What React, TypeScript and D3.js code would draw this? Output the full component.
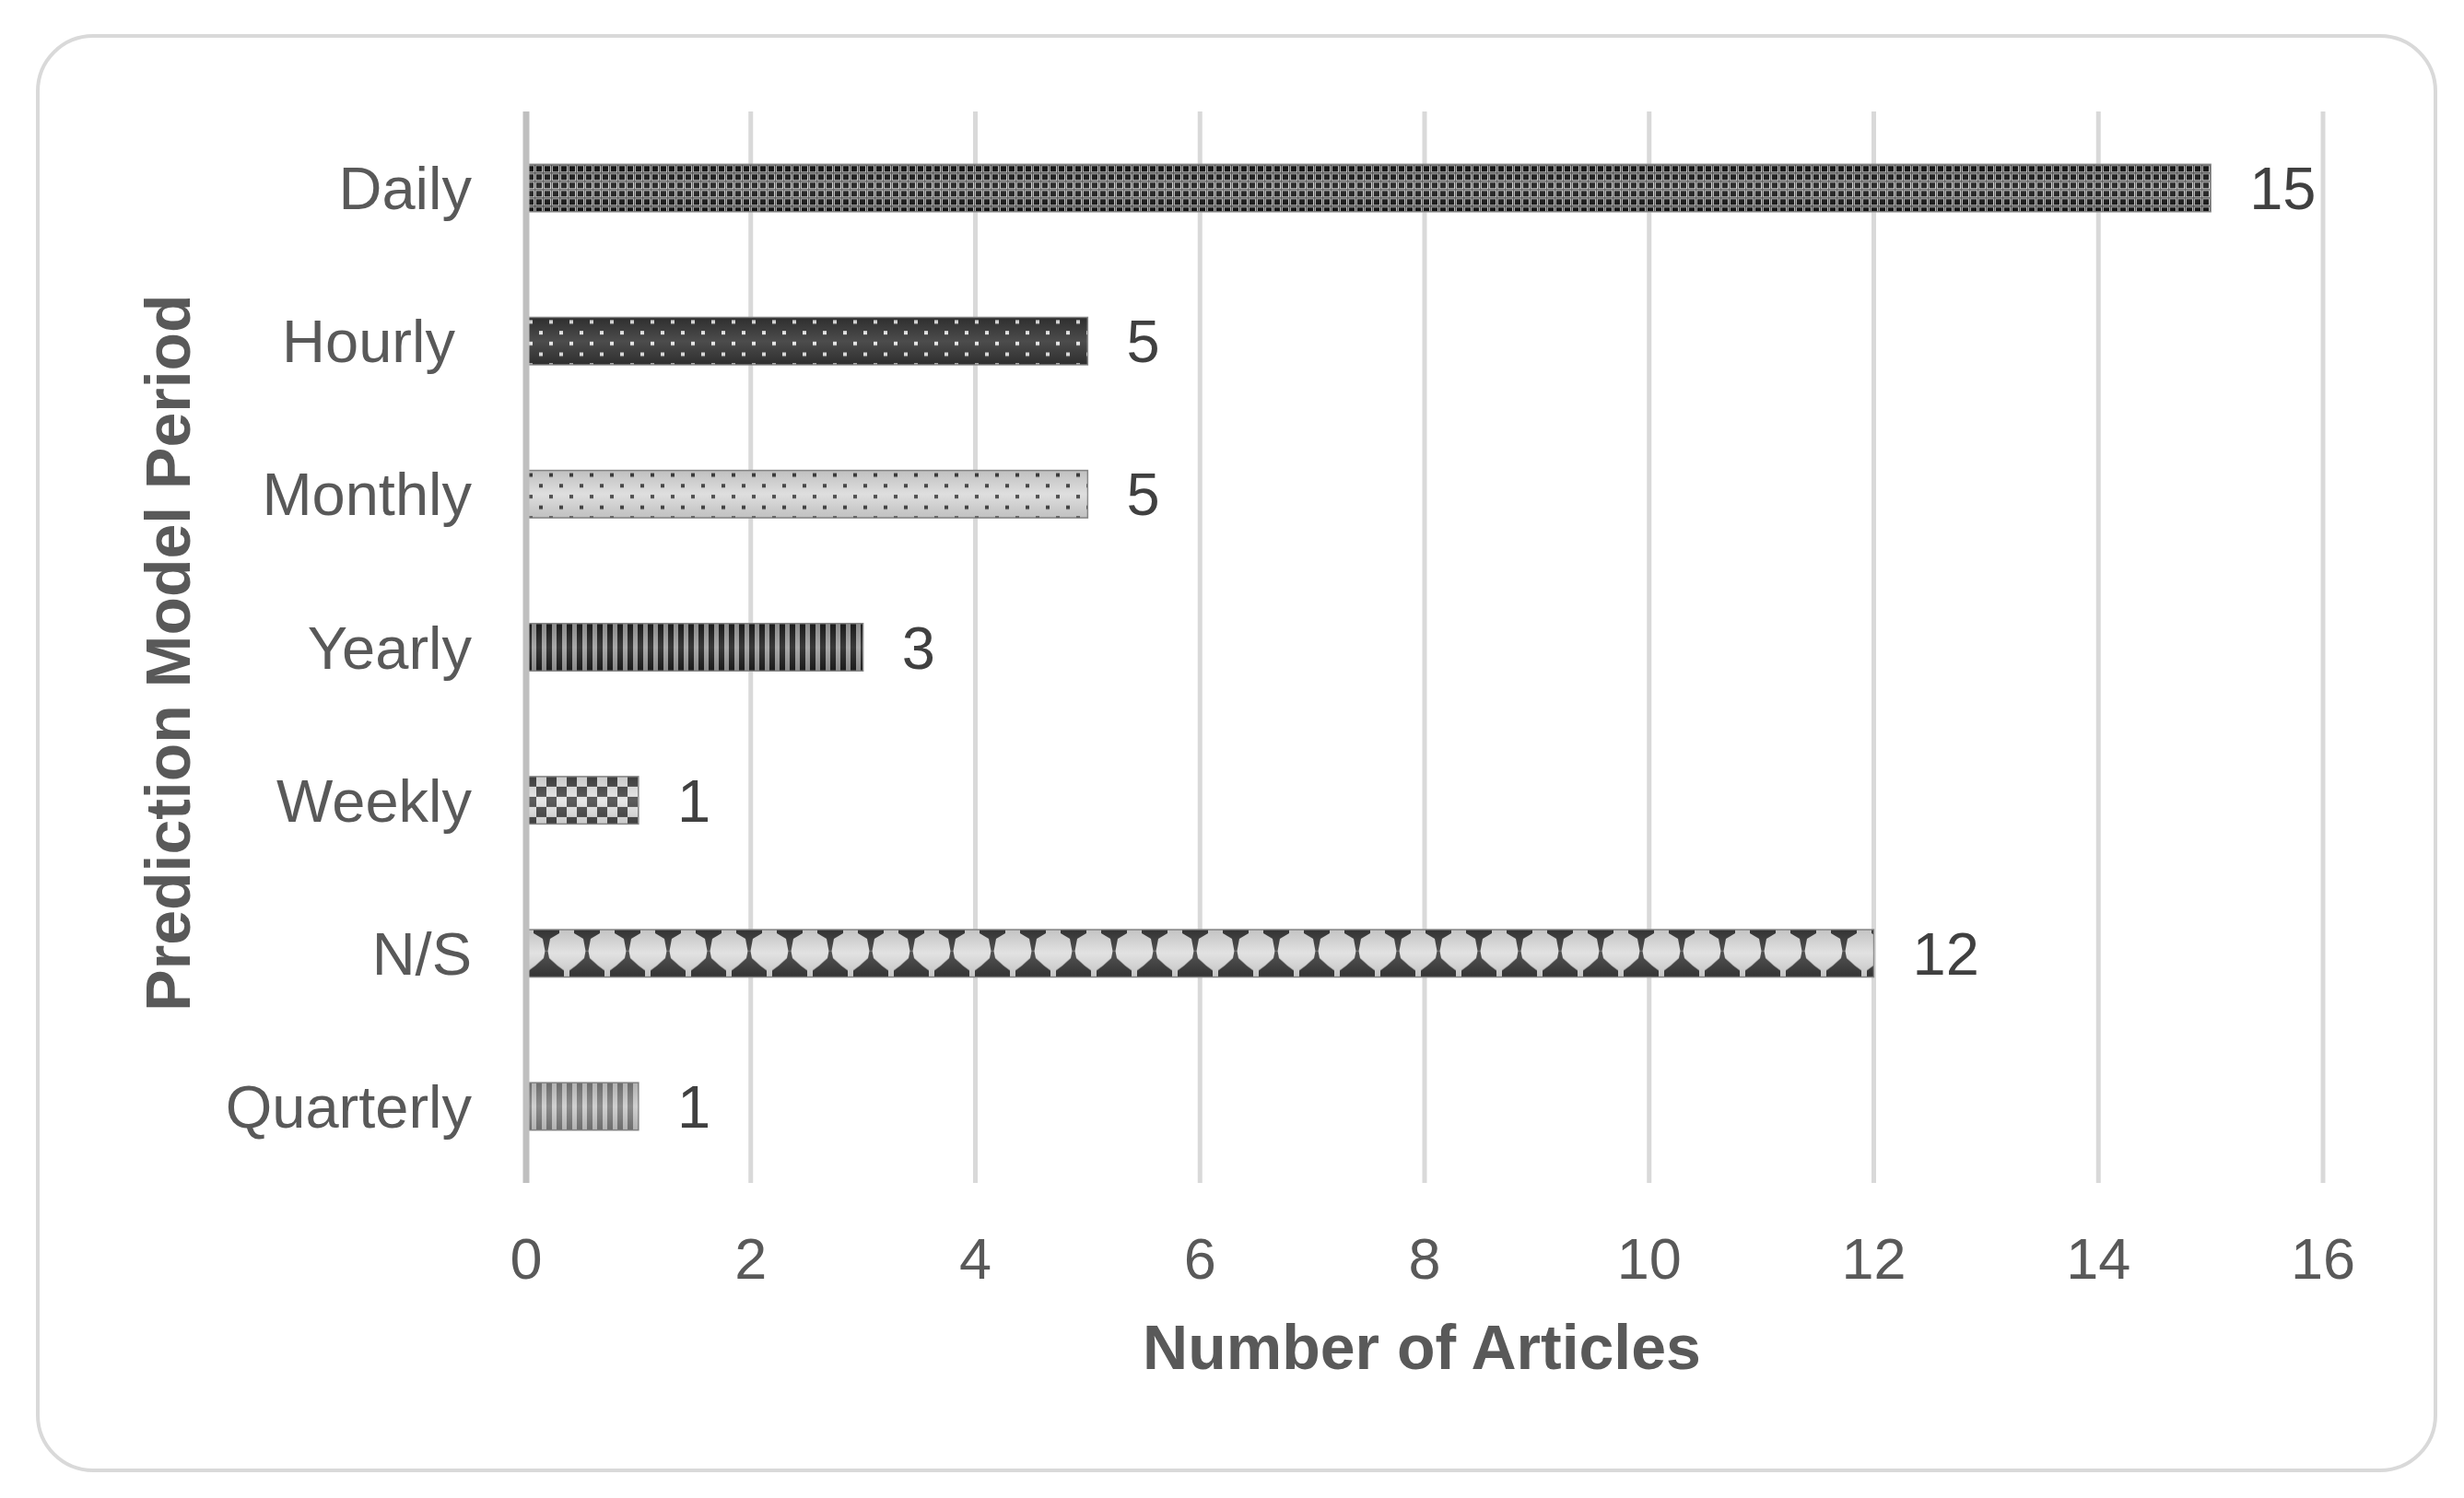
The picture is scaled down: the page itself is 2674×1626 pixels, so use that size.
import React, { useEffect, useRef } from 'react';
import * as d3 from 'd3';

// chart data
const categories = ['Daily', 'Hourly ', 'Monthly', 'Yearly', 'Weekly', 'N/S', 'Quarterly'];
const articleCounts = [15, 5, 5, 3, 1, 12, 1];
const xTicks = [0, 2, 4, 6, 8, 10, 12, 14, 16];
const xTitle = 'Number of Articles';
const yTitle = 'Prediction Model Period';

const FONT = '"Liberation Sans", Arial, sans-serif';

// draws the fill pattern for bar i inside a <pattern> element
function drawPattern(p: any, i: number, h: number) {
  if (i === 0) {
    // dark grid on grey
    p.attr('width', 9).attr('height', 9);
    p.append('rect').attr('width', 9).attr('height', 9).attr('fill', '#d2d2d2');
    p.append('rect').attr('x', 2).attr('y', 2).attr('width', 6).attr('height', 6).attr('fill', '#151515');
    p.append('rect').attr('x', 0).attr('y', 0).attr('width', 9).attr('height', 1.2).attr('fill', '#3c3c3c');
    p.append('rect').attr('x', 0).attr('y', 0).attr('width', 1.2).attr('height', 9).attr('fill', '#555');
  } else if (i === 1 || i === 2) {
    const bg = i === 1 ? '#343434' : '#dadada';
    const dot = i === 1 ? '#e8e8e8' : '#3a3a3a';
    p.attr('width', 22).attr('height', 23.4);
    p.append('rect').attr('width', 22).attr('height', 23.4).attr('fill', bg);
    p.append('rect').attr('x', 3).attr('y', 3).attr('width', 4).attr('height', 4).attr('fill', dot);
    p.append('rect').attr('x', 14).attr('y', 14.7).attr('width', 4).attr('height', 4).attr('fill', dot);
  } else if (i === 3 || i === 6) {
    const bg = i === 3 ? '#9c9c9c' : '#c9c9c9';
    const st = i === 3 ? '#1e1e1e' : '#7c7c7c';
    p.attr('width', 11).attr('height', h);
    p.append('rect').attr('width', 11).attr('height', h).attr('fill', bg);
    p.append('rect').attr('x', 0).attr('width', 6).attr('height', h).attr('fill', st);
  } else if (i === 4) {
    p.attr('width', 22).attr('height', 22);
    p.append('rect').attr('width', 22).attr('height', 22).attr('fill', '#e4e4e4');
    p.append('rect').attr('width', 11).attr('height', 11).attr('fill', '#474747');
    p.append('rect').attr('x', 11).attr('y', 11).attr('width', 11).attr('height', 11).attr('fill', '#474747');
  } else {
    // hourglass shapes
    p.attr('width', 44).attr('height', h);
    p.append('rect').attr('width', 44).attr('height', h).attr('fill', '#dedede');
    p.append('path').attr('fill', '#3a3a3a')
      .attr('d', `M8,0H36V4L26,10L23.5,${h * 0.45}H20.5L18,10L8,4Z`);
    p.append('path').attr('fill', '#3a3a3a')
      .attr('d', `M20.5,${h * 0.45}H23.5L25,${h * 0.6}L34,${h * 0.76}L41,${h * 0.86}V${h}H3V${h * 0.86}L10,${h * 0.76}L19,${h * 0.6}Z`);
  }
}

function App() {
  const ref = useRef<SVGSVGElement | null>(null);

  useEffect(() => {
    if (!ref.current) return;
    const svg = d3.select(ref.current);
    svg.selectAll('*').remove();

    const W = 2674, H = 1626;
    const left = 571, right = 2521, top = 121, bottom = 1284;

    const x = d3.scaleLinear().domain([0, 16]).range([left, right]);
    const y = d3.scaleBand().domain(categories).range([top, bottom])
      .paddingInner(0.69).paddingOuter(0.345);
    const bh = y.bandwidth();

    svg.append('rect').attr('width', W).attr('height', H).attr('fill', '#fff');
    // chart border
    svg.append('rect')
      .attr('x', 41).attr('y', 39).attr('width', 2602).attr('height', 1557)
      .attr('rx', 60).attr('fill', '#fff').attr('stroke', '#d9d9d9').attr('stroke-width', 4);

    const defs = svg.append('defs');
    const grad = defs.append('linearGradient').attr('id', 'shade')
      .attr('x1', 0).attr('y1', 0).attr('x2', 0).attr('y2', 1);
    grad.append('stop').attr('offset', '0%').attr('stop-color', '#000').attr('stop-opacity', 0.12);
    grad.append('stop').attr('offset', '50%').attr('stop-color', '#fff').attr('stop-opacity', 0.12);
    grad.append('stop').attr('offset', '100%').attr('stop-color', '#000').attr('stop-opacity', 0.12);

    categories.forEach((c, i) => {
      const p = defs.append('pattern').attr('id', `pat${i}`)
        .attr('patternUnits', 'userSpaceOnUse')
        .attr('x', x(0)).attr('y', y(c));
      drawPattern(p, i, bh);
    });

    // gridlines
    svg.append('g').selectAll('line').data(xTicks.slice(1)).join('line')
      .attr('x1', d => x(d)).attr('x2', d => x(d))
      .attr('y1', top).attr('y2', bottom)
      .attr('stroke', '#d9d9d9').attr('stroke-width', 5);

    // x tick labels
    svg.append('g').selectAll('text').data(xTicks).join('text')
      .attr('x', d => x(d)).attr('y', 1388)
      .attr('text-anchor', 'middle')
      .attr('font-family', FONT).attr('font-size', 63).attr('fill', '#595959')
      .text(d => d);

    // bars
    const bars = svg.append('g');
    bars.selectAll('rect.bar').data(categories).join('rect')
      .attr('class', 'bar')
      .attr('x', x(0)).attr('y', d => y(d)!)
      .attr('width', (d, i) => x(articleCounts[i]) - x(0)).attr('height', bh)
      .attr('fill', (d, i) => `url(#pat${i})`)
      .attr('stroke', '#8c8c8c').attr('stroke-width', 1.5);
    bars.selectAll('rect.shade').data(categories).join('rect')
      .attr('class', 'shade')
      .attr('x', x(0)).attr('y', d => y(d)!)
      .attr('width', (d, i) => x(articleCounts[i]) - x(0)).attr('height', bh)
      .attr('fill', 'url(#shade)');

    // value labels
    svg.append('g').selectAll('text').data(categories).join('text')
      .attr('x', (d, i) => x(articleCounts[i]) + 42)
      .attr('y', d => y(d)! + bh / 2 + 23)
      .attr('font-family', FONT).attr('font-size', 65).attr('fill', '#404040')
      .text((d, i) => articleCounts[i]);

    // y axis line
    svg.append('line')
      .attr('x1', x(0)).attr('x2', x(0)).attr('y1', top).attr('y2', bottom)
      .attr('stroke', '#bfbfbf').attr('stroke-width', 7);

    // category labels
    svg.append('g').selectAll('text').data(categories).join('text')
      .attr('x', 512).attr('y', d => y(d)! + bh / 2 + 23)
      .attr('text-anchor', 'end')
      .style('white-space', 'pre')
      .attr('font-family', FONT).attr('font-size', 65).attr('fill', '#595959')
      .text(d => d);

    // axis titles
    svg.append('text')
      .attr('x', (left + right) / 2 - 3).attr('y', 1486)
      .attr('text-anchor', 'middle')
      .attr('font-family', FONT).attr('font-size', 68).attr('font-weight', 'bold')
      .attr('fill', '#595959')
      .text(xTitle);
    svg.append('text')
      .attr('transform', `translate(206,${(top + bottom) / 2 + 6}) rotate(-90)`)
      .attr('text-anchor', 'middle')
      .attr('font-family', FONT).attr('font-size', 68).attr('font-weight', 'bold')
      .attr('fill', '#595959')
      .text(yTitle);
  }, []);

  return (
    <svg ref={ref} width={2674} height={1626}
      style={{ position: 'absolute', left: 0, top: 0, display: 'block' }} />
  );
}

export default App;
